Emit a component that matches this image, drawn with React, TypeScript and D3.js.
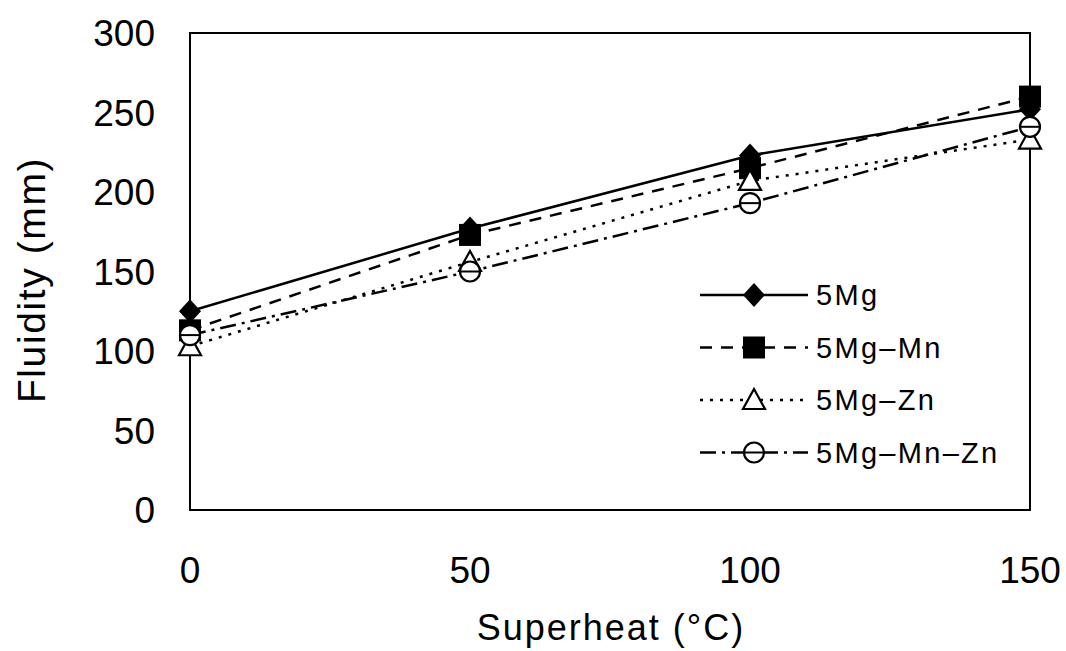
import { useEffect, useRef } from 'react';
import * as d3 from 'd3';

const superheat = [0, 50, 100, 150];
const mg5 = [125, 177, 223, 252];
const mg5Mn = [113, 173, 215, 260];
const mg5Zn = [103, 156, 207, 233];
const mg5MnZn = [110, 150, 193, 241];
const xTicks = [0, 50, 100, 150];
const yTicks = [0, 50, 100, 150, 200, 250, 300];

const seriesList = [
  { name: '5Mg', values: mg5, dash: null, marker: 'diamond' },
  { name: '5Mg\u2013Mn', values: mg5Mn, dash: '12,9', marker: 'square' },
  { name: '5Mg\u2013Zn', values: mg5Zn, dash: '3,7', marker: 'triangle' },
  { name: '5Mg\u2013Mn\u2013Zn', values: mg5MnZn, dash: '16,6,3,6', marker: 'circle' },
];

const width = 1066;
const height = 651;
const font = 'Liberation Sans, Arial, sans-serif';

const drawMarker = (g, type, x, y) => {
  if (type === 'diamond') {
    g.append('path')
      .attr('d', `M${x},${y - 12}L${x + 11},${y}L${x},${y + 12}L${x - 11},${y}Z`)
      .attr('fill', '#000');
  } else if (type === 'square') {
    g.append('rect')
      .attr('x', x - 11).attr('y', y - 11)
      .attr('width', 22).attr('height', 22)
      .attr('fill', '#000');
  } else if (type === 'triangle') {
    g.append('path')
      .attr('d', `M${x},${y - 11}L${x + 11},${y + 9}L${x - 11},${y + 9}Z`)
      .attr('fill', '#fff').attr('stroke', '#000').attr('stroke-width', 2.2);
  } else {
    g.append('circle')
      .attr('cx', x).attr('cy', y).attr('r', 10)
      .attr('fill', '#fff').attr('stroke', '#000').attr('stroke-width', 2.2);
    g.append('line')
      .attr('x1', x - 10).attr('x2', x + 10).attr('y1', y).attr('y2', y)
      .attr('stroke', '#000').attr('stroke-width', 2);
  }
};

const App = () => {
  const svgRef = useRef(null);

  useEffect(() => {
    const svg = d3.select(svgRef.current);
    svg.selectAll('*').remove();

    const x = d3.scaleLinear().domain([0, 150]).range([190, 1030]);
    const y = d3.scaleLinear().domain([0, 300]).range([510, 33]);

    // plot frame
    svg.append('rect')
      .attr('x', 190).attr('y', 33)
      .attr('width', 840).attr('height', 477)
      .attr('fill', 'none').attr('stroke', '#000').attr('stroke-width', 2);

    svg.append('g')
      .selectAll('text')
      .data(yTicks)
      .enter().append('text')
      .attr('x', 155)
      .attr('y', d => y(d))
      .attr('dy', '0.36em')
      .attr('text-anchor', 'end')
      .attr('font-family', font)
      .attr('font-size', 37)
      .text(d => d);

    svg.append('g')
      .selectAll('text')
      .data(xTicks)
      .enter().append('text')
      .attr('x', d => x(d))
      .attr('y', 583)
      .attr('text-anchor', 'middle')
      .attr('font-family', font)
      .attr('font-size', 37)
      .text(d => d);

    svg.append('text')
      .attr('x', 611).attr('y', 640)
      .attr('text-anchor', 'middle')
      .attr('font-family', font)
      .attr('font-size', 36)
      .attr('letter-spacing', 2)
      .text('Superheat (\u00B0C)');

    svg.append('text')
      .attr('transform', 'translate(45,280) rotate(-90)')
      .attr('text-anchor', 'middle')
      .attr('font-family', font)
      .attr('font-size', 39)
      .attr('letter-spacing', 1.6)
      .text('Fluidity (mm)');

    const line = d3.line()
      .x(d => x(d[0]))
      .y(d => y(d[1]));

    const plot = svg.append('g');
    seriesList.forEach(s => {
      const pts = superheat.map((v, i) => [v, s.values[i]]);
      plot.append('path')
        .attr('d', line(pts))
        .attr('fill', 'none')
        .attr('stroke', '#000')
        .attr('stroke-width', 2.5)
        .attr('stroke-dasharray', s.dash);
    });
    seriesList.forEach(s => {
      superheat.forEach((v, i) => drawMarker(plot, s.marker, x(v), y(s.values[i])));
    });

    // legend
    const legend = svg.append('g');
    seriesList.forEach((s, i) => {
      const ly = 295 + i * 52.5;
      legend.append('line')
        .attr('x1', 700).attr('x2', 808)
        .attr('y1', ly).attr('y2', ly)
        .attr('stroke', '#000')
        .attr('stroke-width', 2.5)
        .attr('stroke-dasharray', s.dash);
      drawMarker(legend, s.marker, 754, ly);
      legend.append('text')
        .attr('x', 816).attr('y', ly)
        .attr('dy', '0.36em')
        .attr('font-family', font)
        .attr('font-size', 29)
        .attr('letter-spacing', 2.3)
        .text(s.name);
    });
  }, []);

  return (
    <svg ref={svgRef} width={width} height={height}
      style={{ position: 'absolute', left: 0, top: 0, background: '#fff' }} />
  );
};

export default App;
